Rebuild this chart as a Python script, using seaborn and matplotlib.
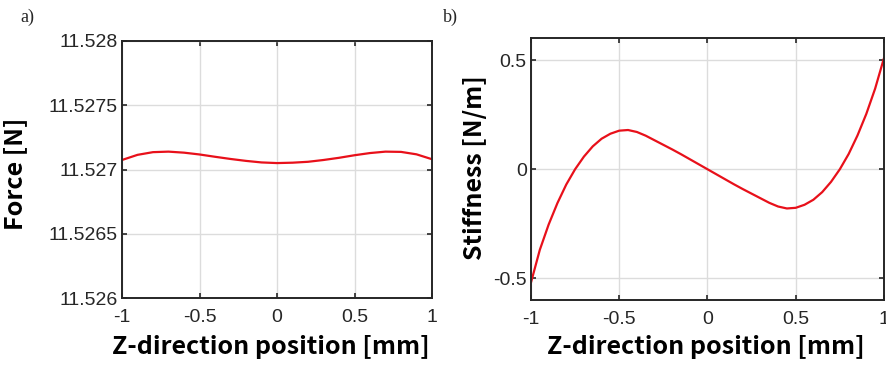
import numpy as np
import pandas as pd
import matplotlib
matplotlib.use("Agg")
import matplotlib.pyplot as plt
import seaborn as sns

# Z position [mm]
z_force = [-1.0, -0.9, -0.8, -0.7, -0.6, -0.5, -0.4, -0.3, -0.2, -0.1, 0.0,
           0.1, 0.2, 0.3, 0.4, 0.5, 0.6, 0.7, 0.8, 0.9, 1.0]
# force offset above 11.527 N, in micro-newtons
force_off = [74, 114, 135, 139, 131, 117, 99, 82, 67, 55, 50,
             53, 60, 74, 91, 111, 128, 139, 137, 118, 80]

z_stiff = [-1.0, -0.95, -0.9, -0.85, -0.8, -0.75, -0.7, -0.65, -0.6, -0.55, -0.5,
           -0.45, -0.4, -0.35, -0.3, -0.25, -0.2, -0.15, -0.1, -0.05, 0.0,
           0.05, 0.1, 0.15, 0.2, 0.25, 0.3, 0.35, 0.4, 0.45, 0.5,
           0.55, 0.6, 0.65, 0.7, 0.75, 0.8, 0.85, 0.9, 0.95, 1.0]
stiffness = [-0.52, -0.37, -0.254, -0.155, -0.07, 0.0, 0.058, 0.105, 0.14, 0.163, 0.177,
             0.180, 0.171, 0.154, 0.133, 0.112, 0.091, 0.069, 0.046, 0.023, 0.0,
             -0.023, -0.046, -0.069, -0.091, -0.112, -0.133, -0.154, -0.171, -0.180, -0.177,
             -0.163, -0.14, -0.105, -0.058, 0.0, 0.07, 0.155, 0.254, 0.37, 0.51]

xticks = [-1, -0.5, 0, 0.5, 1]
xticklabels = ["-1", "-0.5", "0", "0.5", "1"]
force_ticks = [11.526, 11.5265, 11.527, 11.5275, 11.528]
force_ticklabels = ["11.526", "11.5265", "11.527", "11.5275", "11.528"]
stiff_ticks = [-0.5, 0, 0.5]
stiff_ticklabels = ["-0.5", "0", "0.5"]

df_f = pd.DataFrame({"z": z_force, "force": 11.527 + np.array(force_off) * 1e-6})
df_s = pd.DataFrame({"z": z_stiff, "stiffness": stiffness})

sns.set_theme(style="whitegrid")
plt.rcParams["font.family"] = ["Liberation Sans", "DejaVu Sans"]

DARK = "#262626"
fig = plt.figure(figsize=(8.86, 3.69), dpi=100)
ax1 = fig.add_axes([0.1377, 0.1924, 0.3499, 0.6965])
ax2 = fig.add_axes([0.5993, 0.187, 0.3984, 0.7087])

sns.lineplot(data=df_f, x="z", y="force", ax=ax1, color="#e8101a", lw=1.6)
sns.lineplot(data=df_s, x="z", y="stiffness", ax=ax2, color="#e8101a", lw=1.6)

label_font = dict(family=["Noto Sans CJK KR", "DejaVu Sans"], weight="bold", size=18, color="black")

def style(ax, yticks, yticklabels, ylim):
    ax.set_facecolor("white")
    ax.set_xlim(-1, 1)
    ax.set_ylim(*ylim)
    ax.set_xticks(xticks)
    ax.set_xticklabels(xticklabels)
    ax.set_yticks(yticks)
    ax.set_yticklabels(yticklabels)
    ax.grid(True, color="#dcdcdc", lw=1.0)
    for sp in ax.spines.values():
        sp.set_visible(True)
        sp.set_color(DARK)
        sp.set_linewidth(1.4)
    ax.tick_params(direction="in", length=3.5, width=1.2, color=DARK,
                   labelsize=14, labelcolor=DARK, top=True, right=True,
                   bottom=True, left=True)
    ax.tick_params(axis="x", pad=8)
    ax.tick_params(axis="y", pad=3)

style(ax1, force_ticks, force_ticklabels, (11.526, 11.528))
style(ax2, stiff_ticks, stiff_ticklabels, (-0.6, 0.6))

ax1.set_xlabel("Z-direction position [mm]", **label_font)
ax1.set_ylabel("Force [N]", **label_font)
ax2.set_xlabel("Z-direction position [mm]", **label_font)
ax2.set_ylabel("Stiffness [N/m]", **label_font)
ax1.xaxis.set_label_coords(0.48, -0.145)
ax2.xaxis.set_label_coords(0.496, -0.135)
ax1.yaxis.set_label_coords(-0.306, 0.484)
ax2.yaxis.set_label_coords(-0.125, 0.505)

fig.text(20 / 886, 1 - 17 / 369, "a)", family=["Liberation Serif"], size=13, va="center")
fig.text(443 / 886, 1 - 17 / 369, "b)", family=["Liberation Serif"], size=13, va="center")

fig.savefig("out.png", dpi=100, facecolor="white")
